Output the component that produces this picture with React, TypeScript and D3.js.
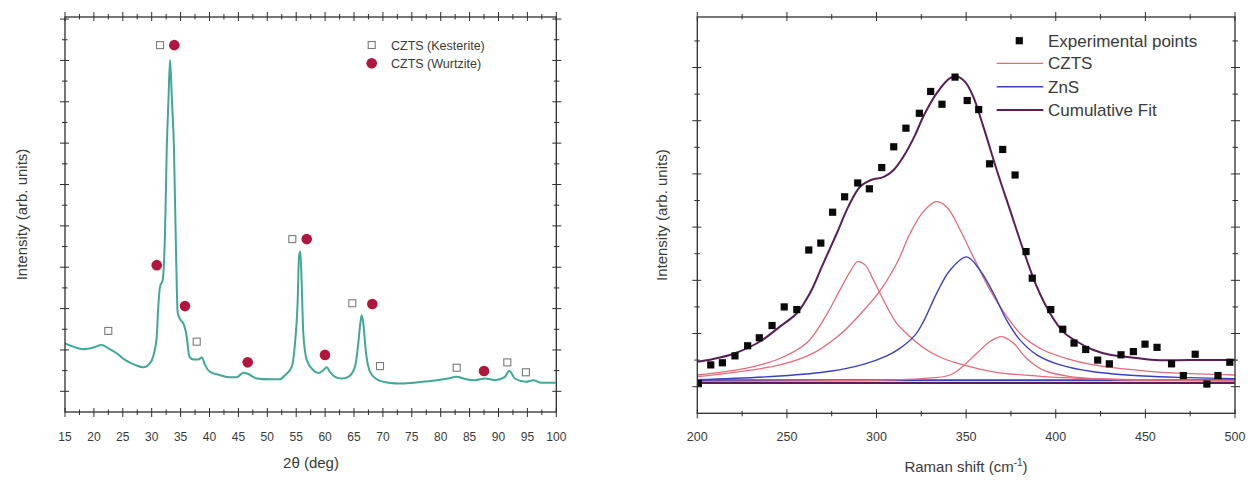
import React from "react";
import * as d3 from "d3";

// ---------- Left panel: XRD ----------
const xrdTwoTheta = [15.0, 16.44, 18.17, 19.9, 21.35, 22.49, 23.94, 25.38, 27.11, 28.55, 29.71, 30.4, 30.87, 31.14, 31.44, 31.9, 32.3, 32.6, 32.9, 33.17, 33.5, 33.86, 34.2, 34.5, 35.02, 35.47, 36.06, 36.51, 37.2, 38.06, 38.65, 39.22, 40.09, 41.82, 43.55, 44.71, 45.85, 46.71, 48.17, 50.47, 52.2, 53.06, 54.22, 54.79, 55.26, 55.48, 55.71, 55.95, 56.23, 56.82, 57.96, 58.82, 59.69, 60.28, 60.85, 61.71, 62.87, 64.01, 65.17, 65.74, 66.09, 66.33, 66.61, 67.02, 67.77, 69.2, 70.93, 73.25, 76.12, 79.01, 81.31, 82.77, 84.2, 85.93, 87.66, 89.39, 91.12, 91.87, 92.82, 94.74, 96.02, 97.3, 99.88];
const xrdIntensity = [1.16, 1.08, 1.02, 1.06, 1.12, 1.04, 0.92, 0.76, 0.64, 0.58, 0.68, 0.92, 1.32, 2.05, 2.53, 2.69, 3.82, 5.83, 7.04, 8.01, 7.04, 5.83, 3.42, 1.89, 1.72, 1.64, 1.32, 0.84, 0.77, 0.77, 0.82, 0.64, 0.47, 0.39, 0.34, 0.34, 0.45, 0.42, 0.31, 0.29, 0.29, 0.39, 0.59, 1.16, 2.21, 3.25, 3.38, 2.61, 1.4, 0.76, 0.51, 0.44, 0.51, 0.58, 0.47, 0.35, 0.31, 0.35, 0.59, 1.16, 1.64, 1.84, 1.64, 1.0, 0.47, 0.27, 0.21, 0.19, 0.22, 0.26, 0.31, 0.35, 0.3, 0.27, 0.31, 0.27, 0.35, 0.5, 0.31, 0.23, 0.27, 0.21, 0.21];

const kesteriteX = [31.44, 22.49, 37.79, 54.33, 64.71, 69.5, 82.77, 91.52, 94.74];
const kesteriteY = [8.37, 1.46, 1.2, 3.68, 2.13, 0.61, 0.57, 0.7, 0.46];
const wurtziteX = [33.91, 30.87, 35.76, 46.61, 56.82, 59.98, 68.17, 87.49];
const wurtziteY = [8.37, 3.05, 2.06, 0.7, 3.68, 0.88, 2.11, 0.49];

const xrdXTicks = d3.range(15, 101, 5);
const xrdLegend = ["CZTS (Kesterite)", "CZTS (Wurtzite)"];

// ---------- Right panel: Raman ----------
const ramanShift = [200.6, 207.5, 214.0, 221.0, 228.1, 234.6, 241.7, 248.5, 255.5, 262.2, 268.9, 275.5, 282.2, 289.5, 296.0, 302.9, 309.6, 316.4, 323.9, 330.2, 336.5, 343.8, 350.6, 357.0, 363.1, 370.4, 377.3, 383.4, 386.9, 397.2, 403.9, 410.2, 416.7, 423.4, 429.9, 436.4, 443.3, 449.8, 456.5, 464.6, 471.2, 477.8, 484.3, 490.5, 497.1];
const ramanIntensity = [0.06, 0.41, 0.45, 0.58, 0.77, 0.92, 1.15, 1.5, 1.45, 2.57, 2.7, 3.28, 3.57, 3.83, 3.72, 4.12, 4.51, 4.86, 5.14, 5.55, 5.31, 5.82, 5.38, 5.21, 4.19, 4.46, 3.98, 2.54, 2.04, 1.45, 1.08, 0.82, 0.7, 0.5, 0.43, 0.6, 0.66, 0.8, 0.74, 0.43, 0.21, 0.61, 0.05, 0.21, 0.46];

const cumFitX = [200, 208.9, 221.0, 235.0, 246.1, 255.5, 262.9, 270.3, 277.8, 284.2, 290.8, 297.3, 303.8, 309.4, 314.9, 321.5, 326.1, 333.6, 341.0, 344.7, 349.4, 354.0, 359.6, 367.1, 374.5, 381.9, 389.4, 396.8, 404.2, 411.7, 421.0, 430.3, 439.6, 455.4, 475, 500];
const cumFitY = [0.47, 0.52, 0.63, 0.85, 1.13, 1.38, 1.76, 2.32, 2.88, 3.38, 3.76, 3.89, 3.94, 4.07, 4.32, 4.73, 5.08, 5.52, 5.8, 5.83, 5.73, 5.45, 4.89, 4.07, 3.32, 2.57, 1.88, 1.38, 1.03, 0.85, 0.69, 0.6, 0.56, 0.5, 0.5, 0.5];

const czts1X = [200, 227.6, 246.1, 261.0, 270.3, 279.6, 285.2, 289.5, 293.6, 298.2, 303.8, 311.3, 318.7, 328.0, 337.3, 348.4, 365.2, 393.1, 430.3, 470, 500];
const czts1Y = [0.22, 0.35, 0.53, 0.82, 1.25, 1.82, 2.16, 2.35, 2.29, 2.01, 1.63, 1.19, 0.94, 0.69, 0.53, 0.41, 0.28, 0.19, 0.14, 0.12, 0.11];

const czts2X = [200, 246.1, 264.7, 279.6, 290.8, 301.9, 311.3, 318.7, 326.1, 333.2, 339.2, 346.6, 354.0, 363.3, 372.6, 381.9, 393.1, 406.1, 421.0, 439.6, 455.4, 480, 500];
const czts2Y = [0.19, 0.41, 0.63, 0.98, 1.36, 1.8, 2.32, 2.88, 3.29, 3.48, 3.38, 2.95, 2.44, 1.82, 1.32, 0.94, 0.69, 0.53, 0.41, 0.33, 0.28, 0.24, 0.22];

const czts3X = [200, 260, 300, 325, 341.0, 348.4, 355.9, 363.3, 369.8, 376.3, 383.8, 393.1, 408.0, 430.3, 470, 500];
const czts3Y = [0.1, 0.11, 0.12, 0.15, 0.22, 0.39, 0.63, 0.85, 0.94, 0.82, 0.53, 0.31, 0.19, 0.14, 0.12, 0.11];

const znsX = [200, 246.1, 274.0, 292.6, 305.7, 313.0, 321.5, 326.1, 333.6, 341.0, 350.3, 357.7, 365.2, 372.6, 380.0, 389.4, 402.4, 421.0, 448.9, 475, 500];
const znsY = [0.13, 0.2, 0.29, 0.42, 0.58, 0.72, 0.97, 1.22, 1.76, 2.19, 2.44, 2.19, 1.76, 1.25, 0.88, 0.6, 0.41, 0.28, 0.2, 0.17, 0.15];

const baseBlueX = [200, 500];
const baseBlueY = [0.12, 0.12];
const basePurpleX = [200, 500];
const basePurpleY = [0.07, 0.07];

const ramanXTicks = d3.range(200, 501, 50);
const ramanLegend = ["Experimental points", "CZTS", "ZnS", "Cumulative Fit"];

// ---------- styling ----------
const FONT = "'Liberation Sans', Arial, sans-serif";
const TXT = "#3a3a3a";
const AX = "#2e2e2e";
const TEAL = "#3fa896";
const CRIMSON = "#b3163c";
const RED = "#e66a78";
const BLUE = "#3b3fc2";
const PURPLE = "#5a1d57";

type Frame = { x0: number; x1: number; y0: number; y1: number };

function Ticks({ xs, ys, f, xMinor, yMinor, xMajor, yMajor }: any) {
  const els: any[] = [];
  const xt = (v: number, major: boolean, k: string) => {
    const px = xs(v);
    const o = major ? 5 : 3;
    const i = major ? 4 : 2.5;
    els.push(<line key={"b" + k} x1={px} x2={px} y1={f.y1 - i} y2={f.y1 + o} stroke={AX} strokeWidth={1} />);
    els.push(<line key={"t" + k} x1={px} x2={px} y1={f.y0 + i} y2={f.y0 - o} stroke={AX} strokeWidth={1} />);
  };
  const yt = (v: number, major: boolean, k: string) => {
    const py = ys(v);
    const o = major ? 5 : 3;
    const i = major ? 4 : 2.5;
    els.push(<line key={"l" + k} x1={f.x0 - o} x2={f.x0 + i} y1={py} y2={py} stroke={AX} strokeWidth={1} />);
    els.push(<line key={"r" + k} x1={f.x1 - i} x2={f.x1 + o} y1={py} y2={py} stroke={AX} strokeWidth={1} />);
  };
  xMinor.forEach((v: number, i: number) => xt(v, false, "xm" + i));
  xMajor.forEach((v: number, i: number) => xt(v, true, "xM" + i));
  yMinor.forEach((v: number, i: number) => yt(v, false, "ym" + i));
  yMajor.forEach((v: number, i: number) => yt(v, true, "yM" + i));
  return <g>{els}</g>;
}

export default function App() {
  // Left panel
  const fL: Frame = { x0: 65, x1: 556.3, y0: 17, y1: 412 };
  const xL = d3.scaleLinear().domain([15, 100]).range([fL.x0, fL.x1]);
  const yL = d3.scaleLinear().domain([-0.5, 9.05]).range([fL.y1, fL.y0]);
  const xrdPts = xrdTwoTheta.map((t, i) => [t, xrdIntensity[i]] as [number, number]);
  const xrdLine = d3
    .line<[number, number]>()
    .x((d) => xL(d[0]))
    .y((d) => yL(d[1]))
    .curve(d3.curveMonotoneX);

  // Right panel
  const fR: Frame = { x0: 697.3, x1: 1235, y0: 17, y1: 413.3 };
  const xR = d3.scaleLinear().domain([200, 500]).range([fR.x0, fR.x1]);
  const yR = d3.scaleLinear().domain([-0.5, 6.95]).range([fR.y1, fR.y0]);
  const rLine = d3
    .line<[number, number]>()
    .x((d) => xR(d[0]))
    .y((d) => yR(d[1]))
    .curve(d3.curveCatmullRom.alpha(0.5));
  const zip = (a: number[], b: number[]) => a.map((v, i) => [v, b[i]] as [number, number]);

  const xLMinor = d3.range(17.5, 100, 5);
  const yLMinor = d3.range(0.5, 9, 1);
  const yLMajor = d3.range(0, 9.01, 1);
  const xRMinor = d3.range(225, 500, 50);
  const yRMinor = d3.range(0.5, 6.6, 1);
  const yRMajor = d3.range(0, 6.01, 1);

  return (
    <svg
      width={1255}
      height={482}
      style={{ position: "absolute", left: 0, top: 0, background: "#fff" }}
      fontFamily={FONT}
    >
      <rect x={0} y={0} width={1255} height={482} fill="#fff" />
      {/* ===== Left panel ===== */}
      <defs>
        <clipPath id="clipL">
          <rect x={fL.x0} y={fL.y0} width={fL.x1 - fL.x0} height={fL.y1 - fL.y0} />
        </clipPath>
        <clipPath id="clipR">
          <rect x={fR.x0} y={fR.y0} width={fR.x1 - fR.x0} height={fR.y1 - fR.y0} />
        </clipPath>
      </defs>
      <g clipPath="url(#clipL)">
        <path d={xrdLine(xrdPts) || ""} fill="none" stroke={TEAL} strokeWidth={2} strokeLinejoin="round" />
      </g>
      {kesteriteX.map((v, i) => (
        <rect
          key={"k" + i}
          x={xL(v) - 3.5}
          y={yL(kesteriteY[i]) - 3.5}
          width={7}
          height={7}
          fill="#fff"
          stroke="#7a7a7a"
          strokeWidth={1.1}
        />
      ))}
      {wurtziteX.map((v, i) => (
        <circle key={"w" + i} cx={xL(v)} cy={yL(wurtziteY[i])} r={5.3} fill={CRIMSON} />
      ))}
      <rect x={fL.x0} y={fL.y0} width={fL.x1 - fL.x0} height={fL.y1 - fL.y0} fill="none" stroke={AX} strokeWidth={1.3} />
      <Ticks xs={xL} ys={yL} f={fL} xMinor={xLMinor} xMajor={xrdXTicks} yMinor={yLMinor} yMajor={yLMajor} />
      {xrdXTicks.map((v) => (
        <text key={"xl" + v} x={xL(v)} y={441} textAnchor="middle" fontSize={12} fill={TXT}>
          {v}
        </text>
      ))}
      <text x={311} y={468} textAnchor="middle" fontSize={15} fill={TXT}>
        2θ (deg)
      </text>
      <text transform={`translate(27,${(fL.y0 + fL.y1) / 2}) rotate(-90)`} textAnchor="middle" fontSize={15} fill={TXT}>
        Intensity (arb. units)
      </text>
      {/* legend left */}
      <rect x={371.7 - 3.5} y={45 - 3.5} width={7} height={7} fill="#fff" stroke="#7a7a7a" strokeWidth={1.1} />
      <circle cx={371.7} cy={63.3} r={5.3} fill={CRIMSON} />
      {xrdLegend.map((t, i) => (
        <text key={t} x={391} y={[45, 63.3][i] + 4.5} fontSize={12.5} fill={TXT}>
          {t}
        </text>
      ))}

      {/* ===== Right panel ===== */}
      <g clipPath="url(#clipR)">
        <path d={rLine(zip(basePurpleX, basePurpleY)) || ""} fill="none" stroke={PURPLE} strokeWidth={2} />
        <path d={rLine(zip(baseBlueX, baseBlueY)) || ""} fill="none" stroke={BLUE} strokeWidth={2} />
        <path d={rLine(zip(czts1X, czts1Y)) || ""} fill="none" stroke={RED} strokeWidth={1.3} />
        <path d={rLine(zip(czts2X, czts2Y)) || ""} fill="none" stroke={RED} strokeWidth={1.3} />
        <path d={rLine(zip(czts3X, czts3Y)) || ""} fill="none" stroke={RED} strokeWidth={1.3} />
        <path d={rLine(zip(znsX, znsY)) || ""} fill="none" stroke={BLUE} strokeWidth={1.4} />
        <path d={rLine(zip(cumFitX, cumFitY)) || ""} fill="none" stroke={PURPLE} strokeWidth={2} />
        {ramanShift.map((v, i) => (
          <rect key={"e" + i} x={xR(v) - 3.6} y={yR(ramanIntensity[i]) - 3.6} width={7.2} height={7.2} fill="#0a0a0a" />
        ))}
      </g>
      <rect x={fR.x0} y={fR.y0} width={fR.x1 - fR.x0} height={fR.y1 - fR.y0} fill="none" stroke={AX} strokeWidth={1.3} />
      <Ticks xs={xR} ys={yR} f={fR} xMinor={xRMinor} xMajor={ramanXTicks} yMinor={yRMinor} yMajor={yRMajor} />
      {ramanXTicks.map((v) => (
        <text key={"xr" + v} x={xR(v)} y={441} textAnchor="middle" fontSize={12.5} fill={TXT}>
          {v}
        </text>
      ))}
      <text x={966} y={472} textAnchor="middle" fontSize={15} fill={TXT}>
        Raman shift (cm
        <tspan dy={-6} fontSize={10}>-1</tspan>
        <tspan dy={6}>)</tspan>
      </text>
      <text transform={`translate(667,${(fR.y0 + fR.y1) / 2}) rotate(-90)`} textAnchor="middle" fontSize={15} fill={TXT}>
        Intensity (arb. units)
      </text>
      {/* legend right */}
      <rect x={1019.3 - 3.6} y={40.7 - 3.6} width={7.2} height={7.2} fill="#0a0a0a" />
      <line x1={996.7} x2={1043.3} y1={63.3} y2={63.3} stroke={RED} strokeWidth={1.3} />
      <line x1={996.7} x2={1043.3} y1={86.7} y2={86.7} stroke={BLUE} strokeWidth={1.4} />
      <line x1={996.7} x2={1043.3} y1={110} y2={110} stroke={PURPLE} strokeWidth={2} />
      {ramanLegend.map((t, i) => (
        <text key={t} x={1048} y={[40.7, 63.3, 86.7, 110][i] + 6} fontSize={17} fill={TXT}>
          {t}
        </text>
      ))}
    </svg>
  );
}
